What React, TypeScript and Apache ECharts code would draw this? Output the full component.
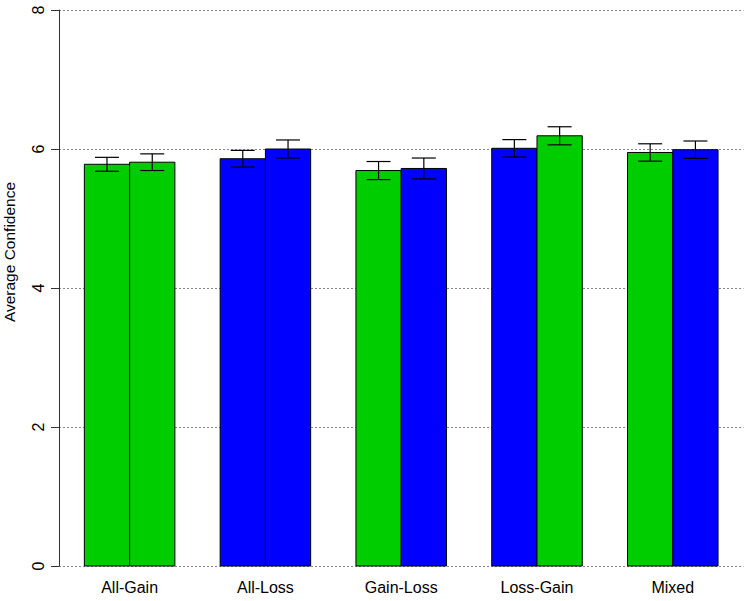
import React, { useEffect, useRef } from "react";
import * as echarts from "echarts";

const categories = ["All-Gain", "All-Loss", "Gain-Loss", "Loss-Gain", "Mixed"];
const firstValues = [5.78, 5.86, 5.69, 6.01, 5.95];
const secondValues = [5.81, 6.0, 5.72, 6.19, 5.99];
const firstErrors = [0.1, 0.12, 0.13, 0.125, 0.125];
const secondErrors = [0.12, 0.13, 0.15, 0.13, 0.125];
const GREEN = "#00CD00";
const BLUE = "#0000FF";
const firstColors = [GREEN, BLUE, GREEN, BLUE, GREEN];
const secondColors = [GREEN, BLUE, BLUE, GREEN, BLUE];
const yTicks = [0, 2, 4, 6, 8];
const yTitle = "Average Confidence";

const FONT = "Liberation Sans, Arial, sans-serif";

export default function App() {
  const ref = useRef<HTMLDivElement>(null);
  useEffect(() => {
    if (!ref.current) return;
    const chart = echarts.init(ref.current, null, { renderer: "svg" });

    const bars: any[] = [];
    const colors: string[] = [];
    categories.forEach((_, i) => {
      bars.push([1.5 + 3 * i, firstValues[i], firstErrors[i]]);
      colors.push(firstColors[i]);
      bars.push([2.5 + 3 * i, secondValues[i], secondErrors[i]]);
      colors.push(secondColors[i]);
    });
    const labelPositions = categories.map((_, i) => 2 + 3 * i);

    const option: any = {
      animation: false,
      backgroundColor: "#ffffff",
      grid: { left: 59, right: 6.6, top: 10, bottom: 35 },
      xAxis: {
        type: "value",
        min: 0.44,
        max: 15.56,
        axisLine: { show: false },
        axisTick: { show: false },
        splitLine: { show: false },
        axisLabel: {
          customValues: labelPositions,
          formatter: (v: number) => categories[Math.round((v - 2) / 3)],
          fontSize: 16,
          color: "#000",
          fontFamily: FONT,
          margin: 13,
        },
      },
      yAxis: {
        type: "value",
        min: yTicks[0],
        max: yTicks[yTicks.length - 1],
        interval: 2,
        axisLine: { show: true, lineStyle: { color: "#333", width: 1 } },
        axisTick: { show: true, length: 8, lineStyle: { color: "#333" } },
        axisLabel: {
          rotate: 90,
          fontSize: 16,
          color: "#000",
          fontFamily: FONT,
          margin: 13,
        },
        splitLine: {
          show: true,
          lineStyle: { color: "#888", type: [2, 2], width: 1 },
        },
      },
      graphic: [
        {
          type: "text",
          x: 9,
          y: 252,
          rotation: Math.PI / 2,
          style: {
            text: yTitle,
            fontSize: 15.5,
            fill: "#000",
            fontFamily: FONT,
            align: "center",
            verticalAlign: "middle",
          },
        },
      ],
      series: [
        {
          type: "custom",
          data: bars,
          renderItem: (params: any, api: any) => {
            const x = api.value(0);
            const v = api.value(1);
            const p0 = api.coord([x - 0.5, 0]);
            const p1 = api.coord([x + 0.5, v]);
            return {
              type: "rect",
              shape: {
                x: p0[0],
                y: p1[1],
                width: p1[0] - p0[0],
                height: p0[1] - p1[1],
              },
              style: {
                fill: colors[params.dataIndex],
                stroke: "#000",
                lineWidth: 1,
              },
            };
          },
          z: 2,
        },
        {
          type: "custom",
          data: bars,
          renderItem: (params: any, api: any) => {
            const x = api.value(0);
            const v = api.value(1);
            const e = api.value(2);
            const top = api.coord([x, v + e]);
            const bot = api.coord([x, v - e]);
            const hw = 12;
            const st = { stroke: "#000", lineWidth: 1.2 };
            return {
              type: "group",
              children: [
                { type: "line", shape: { x1: top[0], y1: top[1], x2: bot[0], y2: bot[1] }, style: st },
                { type: "line", shape: { x1: top[0] - hw, y1: top[1], x2: top[0] + hw, y2: top[1] }, style: st },
                { type: "line", shape: { x1: bot[0] - hw, y1: bot[1], x2: bot[0] + hw, y2: bot[1] }, style: st },
              ],
            };
          },
          z: 3,
        },
      ],
    };
    chart.setOption(option);
    return () => chart.dispose();
  }, []);
  return (
    <div
      ref={ref}
      style={{ position: "fixed", left: 0, top: 0, width: 750, height: 601 }}
    />
  );
}
